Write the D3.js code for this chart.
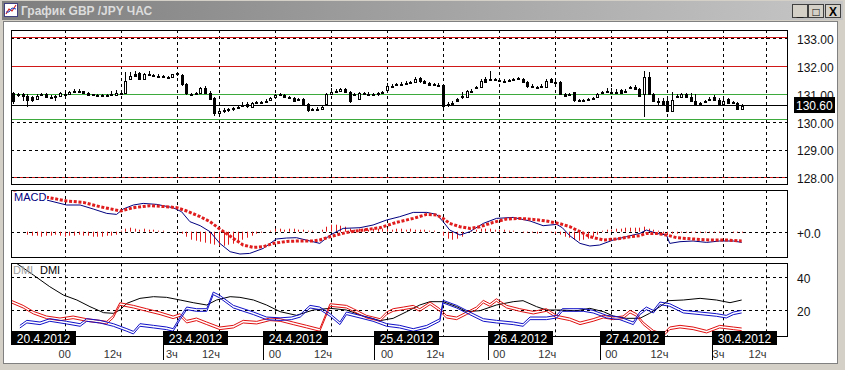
<!DOCTYPE html>
<html>
<head>
<meta charset="utf-8">
<script src="https://cdnjs.cloudflare.com/ajax/libs/d3/7.8.5/d3.min.js"></script>
<style>
body { margin: 0; background: #d4d0c8; }
svg text { font-family: "Liberation Sans", Arial, sans-serif; }
</style>
</head>
<body>
<div id="chart"></div>
<script>
// hourly GBP/JPY candles, bar 0 = 19.4 13h
var priceOpen = [131.02,130.96,130.98,130.92,130.88,130.82,130.96,131.00,130.90,130.90,130.90,131.00,131.02,131.08,131.12,131.10,131.04,130.98,130.96,130.96,
130.94,130.96,130.98,131.04,131.06,131.56,131.70,131.74,131.54,131.72,131.68,131.66,131.64,131.62,131.58,131.70,131.68,131.34,131.00,131.00,
131.04,131.22,131.04,130.84,130.34,130.40,130.42,130.46,130.50,130.56,130.62,130.52,130.66,130.72,130.72,130.78,130.88,130.98,130.96,130.88,
130.86,130.78,130.82,130.64,130.44,130.46,130.48,130.62,131.00,131.08,131.12,131.18,131.06,130.98,130.82,131.02,131.00,130.98,130.98,131.04,
131.12,131.28,131.32,131.34,131.38,131.40,131.42,131.56,131.46,131.40,131.34,131.32,131.32,130.60,130.66,130.82,130.92,130.92,131.12,131.20,
131.28,131.54,131.52,131.54,131.50,131.48,131.48,131.52,131.56,131.54,131.42,131.30,131.24,131.28,131.26,131.52,131.42,131.42,131.00,130.96,
131.06,130.78,130.78,130.78,130.84,130.90,131.02,131.08,131.08,131.06,131.14,131.10,131.22,131.26,131.18,131.00,131.60,131.00,130.76,130.76,
130.76,130.40,130.92,130.90,131.00,130.90,130.76,130.66,130.72,130.82,130.90,130.78,130.66,130.82,130.70,130.66,130.46];
var priceHigh = [131.06,131.04,131.02,130.98,130.94,130.98,131.04,131.02,130.96,130.96,131.06,131.04,131.12,131.18,131.16,131.12,131.06,131.00,130.98,130.98,
130.98,131.10,131.14,131.10,131.78,131.80,131.82,131.80,131.76,131.84,131.72,131.70,131.68,131.66,131.72,131.80,131.72,131.38,131.04,131.06,
131.26,131.28,131.10,130.90,130.46,130.50,130.50,130.54,130.58,130.72,130.70,130.72,130.74,130.76,130.80,130.88,131.00,131.04,131.00,130.92,
130.90,130.84,130.86,130.68,130.50,130.52,130.60,131.04,131.20,131.16,131.22,131.20,131.10,131.04,131.08,131.06,131.08,131.02,131.06,131.10,
131.40,131.34,131.38,131.42,131.46,131.48,131.60,131.60,131.50,131.44,131.38,131.40,131.36,130.70,130.74,130.86,131.06,131.14,131.16,131.28,
131.54,131.60,131.84,131.58,131.58,131.52,131.54,131.58,131.60,131.58,131.46,131.34,131.28,131.34,131.52,131.56,131.46,131.48,131.04,131.04,
131.08,130.82,130.82,130.84,130.90,131.04,131.12,131.20,131.20,131.16,131.18,131.16,131.30,131.32,131.22,131.84,131.80,131.04,130.84,130.86,
130.80,131.08,131.00,131.04,131.04,131.02,131.00,130.70,130.78,130.90,130.96,130.84,130.82,130.86,130.74,130.70,130.62];
var priceLow = [130.64,130.90,130.76,130.52,130.72,130.80,130.94,130.86,130.86,130.76,130.88,130.96,131.00,131.06,131.04,131.00,130.94,130.92,130.92,130.92,
130.92,130.94,130.96,130.98,131.04,131.52,131.62,131.50,131.52,131.66,131.62,131.62,131.58,131.56,131.56,131.64,131.30,130.96,130.96,130.96,
131.02,131.00,130.80,130.22,130.24,130.30,130.36,130.40,130.44,130.52,130.50,130.50,130.62,130.66,130.66,130.74,130.86,130.94,130.84,130.80,
130.70,130.74,130.60,130.36,130.40,130.42,130.46,130.58,130.98,131.04,131.08,131.04,130.66,130.94,130.80,130.96,130.94,130.92,130.94,131.00,
131.10,131.24,131.28,131.30,131.34,131.36,131.40,131.40,131.34,131.28,131.30,131.26,130.50,130.54,130.60,130.74,130.82,130.90,131.08,131.16,
131.26,131.40,131.48,131.48,131.46,131.44,131.44,131.48,131.52,131.40,131.22,131.22,131.18,131.24,131.24,131.38,131.36,130.98,130.88,130.92,
130.72,130.72,130.74,130.74,130.80,130.88,130.98,131.04,131.02,131.00,131.00,131.06,131.18,131.14,130.92,130.16,130.98,130.74,130.58,130.62,
130.34,130.36,130.88,130.88,130.86,130.74,130.62,130.60,130.68,130.78,130.76,130.62,130.62,130.64,130.66,130.42,130.42];
var priceClose = [130.72,130.98,130.92,130.76,130.78,130.94,131.00,130.88,130.90,130.92,131.02,131.00,131.08,131.12,131.10,131.04,130.98,130.96,130.96,130.94,
130.96,130.98,131.04,131.04,131.48,131.66,131.64,131.54,131.72,131.68,131.66,131.64,131.62,131.58,131.70,131.74,131.34,131.00,130.98,131.02,
131.22,131.04,130.84,130.30,130.40,130.42,130.44,130.48,130.52,130.60,130.54,130.66,130.70,130.72,130.76,130.84,130.96,131.00,130.88,130.84,
130.76,130.80,130.64,130.42,130.44,130.46,130.54,130.98,131.06,131.12,131.18,131.06,130.72,131.00,131.04,130.98,130.96,130.96,131.02,131.08,
131.28,131.30,131.34,131.36,131.40,131.44,131.54,131.44,131.38,131.32,131.34,131.30,130.58,130.64,130.68,130.76,130.94,131.12,131.12,131.24,
131.48,131.44,131.54,131.52,131.48,131.48,131.50,131.52,131.56,131.44,131.26,131.30,131.24,131.30,131.46,131.40,131.40,131.00,130.94,131.00,
130.76,130.78,130.78,130.80,130.86,131.00,131.06,131.10,131.06,131.06,131.02,131.12,131.24,131.18,130.94,131.60,131.00,130.76,130.76,130.64,
130.40,130.78,130.94,131.00,130.88,130.76,130.64,130.64,130.74,130.82,130.80,130.64,130.76,130.66,130.70,130.46,130.58];

var priceTicks = [128, 129, 130, 131, 132, 133];
var redLevels = [133.06, 132.0, 128.0];
var greenLevels = [131.0, 130.08];
var lastPrice = 130.60;

// MACD, [bar, value]
var macdLine = [[0,0.38],[3,0.35],[7.1,0.317],[10,0.283],[11.4,0.267],[14.3,0.267],[17.1,0.227],[20,0.183],[22.1,0.173],[23.5,0.227],
[25.7,0.267],[27.8,0.283],[30.7,0.273],[34.2,0.24],[36,0.2],[37.8,0.1],[40,0.06],[42.1,0],[44.2,-0.117],[46.4,-0.2],[48.5,-0.223],
[50.6,-0.217],[53.5,-0.167],[56.3,-0.073],[58.5,-0.063],[60.6,-0.06],[63.5,-0.093],[65.6,-0.117],[67.8,-0.033],[70.6,0.033],[74.2,0.04],
[77,0.067],[79.9,0.117],[82.7,0.15],[85.6,0.193],[88.5,0.193],[90.6,0.173],[92,0.1],[93.4,0.017],[95.6,-0.033],[97.7,0],[100.6,0.083],
[103.4,0.133],[107,0.143],[110.6,0.107],[113.4,0.06],[116.3,0.073],[117.5,0.04],[119.1,-0.04],[121.3,-0.117],[123.4,-0.143],[125.5,-0.133],
[128.4,-0.083],[131.2,-0.05],[134.1,-0.017],[135.5,0.017],[137.7,-0.017],[139.8,-0.033],[140.5,-0.117],[142.7,-0.1],[145.5,-0.093],
[148.4,-0.107],[151.2,-0.093],[154.1,-0.093],[155.9,-0.107]];
var macdSignal = [[0,0.39],[3,0.37],[7.4,0.343],[11.4,0.307],[15,0.293],[18.5,0.25],[23,0.207],[25.7,0.24],[29.2,0.26],[32.8,0.25],[35,0.24],
[37.1,0.207],[40,0.15],[42.1,0.1],[44.2,0.027],[47.1,-0.067],[49.2,-0.133],[51.4,-0.157],[53.5,-0.15],[55.6,-0.117],[58.5,-0.097],
[61.3,-0.093],[64.2,-0.093],[65.6,-0.083],[67.8,-0.05],[71.3,-0.007],[74.9,0.017],[78.5,0.04],[82,0.093],[85.6,0.133],[88.5,0.173],
[90.6,0.167],[92,0.133],[93.4,0.083],[95.6,0.05],[97.7,0.033],[99.9,0.05],[102.7,0.093],[105.6,0.127],[108.4,0.133],[111.3,0.123],
[114.1,0.107],[117,0.08],[119.1,0.05],[121.3,0],[123.4,-0.05],[126.3,-0.083],[129.1,-0.073],[132,-0.05],[134.1,-0.04],[135.5,-0.017],
[137.7,-0.017],[139.8,-0.033],[142,-0.06],[145.5,-0.073],[149.1,-0.083],[152.6,-0.083],[155.9,-0.093]];
var macdHist = [0,0,0,
-0.03,-0.04,-0.04,-0.05,-0.04,-0.04,-0.03,-0.04,-0.05,-0.04,-0.04,-0.03,-0.04,-0.04,-0.05,-0.05,-0.05,-0.04,-0.04,-0.03,
0.01,0.03,0.04,0.03,0.02,0.03,0.02,0.02,0.01,
0.01,0,0,-0.01,-0.02,
-0.05,-0.08,-0.09,-0.10,-0.11,-0.12,-0.13,-0.14,-0.14,-0.13,-0.12,-0.10,-0.08,-0.06,-0.04,-0.02,
-0.01,0,0.01,
0.03,0.03,0.02,0.03,0.03,0.02,0.02,0.01,0.01,0,0.02,0.05,
0.07,0.07,0.06,0.05,
0.03,0.02,0.03,0.03,0.02,0.03,0.03,0.03,0.03,0.02,0.03,0.03,0.02,0.03,0.02,
0.02,0.02,0.01,0.01,0,
-0.04,-0.07,-0.08,-0.07,-0.05,
0,0.01,0.02,0.03,0.03,0.03,0.02,0.02,0.02,0.01,0.01,0,-0.01,-0.01,-0.01,-0.02,-0.01,0,-0.01,-0.02,
-0.03,-0.05,-0.06,-0.08,-0.09,-0.08,-0.07,-0.05,-0.03,
0.01,0.02,0.02,0.03,0.03,0.04,0.04,0.04,0.04,0.05,0.03,0.02,0.01,
-0.02,-0.03,-0.02,-0.02,-0.01,-0.01,-0.01,-0.01,-0.01,-0.01,-0.01,-0.01,-0.01,0,0,-0.01,-0.01,-0.01];

// DMI, [bar, value]
var adxLine = [[0.7,48],[4.3,41],[7.8,34],[10.7,29],[13.6,26],[16.4,22],[19.3,18.4],[21.4,18],[22.8,20],[24.3,24],[27.1,27],[30,28],
[32.8,27.6],[35.7,26],[38.5,24.4],[41.4,23],[43.5,26],[46.4,28],[48.5,27.6],[51.4,26],[54.2,23],[57.1,19],[60.6,16.8],[64.2,20],
[67.8,21],[71.3,20],[74.9,16.4],[78.5,13.6],[81.3,15],[84.2,19],[87,23],[89.2,25],[92,25],[94.9,22],[97,19],[99.9,19.6],[103.4,23],
[107,25],[109.1,25.6],[112,22],[114.1,20],[117,20],[120.5,19.5],[123.4,21],[126.3,19],[128.4,16.4],[131.2,15],[134.1,15],[136.2,18],
[138.4,22],[140.2,25.6],[143.4,26],[147,27],[150.5,26],[153.4,24.4],[155.9,26]];
var plusDi = [[-0.4,25],[2.1,22],[4.3,18.4],[7.1,15.6],[10,14.4],[12.8,15.6],[15.7,14],[18.5,13],[20,12.4],[21.4,16],[22.8,23.6],
[25.7,22],[28.5,20],[31.4,18],[34.2,15.6],[35.7,17],[37.1,13],[39.2,14.4],[41.4,12],[44.2,9],[47.1,10],[49.2,13],[52.1,12.4],
[54.9,14.4],[57.1,14],[59.9,12],[62.8,10],[65.6,8],[67.8,23],[71.3,22],[72.8,20],[75.6,16],[78.5,14],[79.9,18],[81.3,20],[83.5,21],
[85.6,22],[87,20],[89.2,24],[91.3,20],[92.7,16],[94.9,15],[97,18],[99.1,21],[100.6,25],[102,23],[103.4,26],[105.6,22],[108.4,20],
[111.3,18.4],[114.1,20],[116.3,16],[119.1,14.4],[121.3,12],[124.1,14],[126.3,16],[128.4,15],[130.5,15.6],[132,19],[133.4,17],
[134.8,12],[137,7],[139.1,5],[140.5,9],[142.7,10],[145.5,9],[148.4,7],[151.2,10],[154.1,9],[155.9,8.4]];
var minusDi = [[1.4,10],[2.9,13],[5.7,12],[7.8,14],[11.4,12.4],[14.3,11],[15.7,14],[18.5,13],[21.4,11],[24.3,8],[25.7,6.4],[27.1,11],
[30,10],[32.8,9],[34.2,8],[35.7,15],[37.1,21],[39.2,20],[41.4,20],[42.8,30],[44.2,28],[47.1,22],[51.4,18],[54.2,15],[57.1,14.5],
[59.5,15],[61.4,16.5],[63.5,22],[65.6,21],[67.8,17],[69.9,12],[71.3,18],[74.2,16],[77,14],[79.9,11],[82.7,10],[85.6,8],[88.5,10],
[91.3,14],[92,25],[94.9,22],[97.7,18],[100.6,14],[103.4,13],[107,12],[109.1,11],[110.6,15],[114.1,15],[116.3,16],[117.5,20],
[119.8,20],[122,20],[124.1,19],[127,16],[129.8,15],[132.7,12],[134.1,18],[135.5,21],[137,19],[138.4,24],[140.5,23],[143.4,19],
[147,18],[150.5,17],[152.6,16],[154.1,18],[155.9,19]];

// time axis
var gridBars = [11, 23, 35, 44, 56, 68, 80, 92, 104, 116, 128, 140, 152, 161];
var hourLabels = ["00", "12ч", "3ч", "12ч", "00", "12ч", "00", "12ч", "00", "12ч", "00", "12ч", "3ч", "12ч"];
var dayBars = [-0.4, 32, 53.5, 77.3, 101.5, 125.5, 149.6];
var dayLabels = ["20.4.2012", "23.4.2012", "24.4.2012", "25.4.2012", "26.4.2012", "27.4.2012", "30.4.2012"];

var W = 845, H = 370;
var left = 11, right = 787;
var pPanel = {top: 30, bottom: 184},
    mPanel = {top: 190, bottom: 256.7},
    dPanel = {top: 263.3, bottom: 336.7};

var svg = d3.select("#chart")
    .append("svg")
    .attr("width", W)
    .attr("height", H);

// window frame
var defs = svg.append("defs");
var grad = defs.append("linearGradient").attr("id", "titleGrad");
grad.append("stop").attr("offset", "0%").attr("stop-color", "#7e7e7e");
grad.append("stop").attr("offset", "100%").attr("stop-color", "#c6c6c6");

svg.append("rect").attr("width", W).attr("height", H).attr("fill", "#d4d0c8");
svg.append("rect").attr("x", 2).attr("y", 1).attr("width", W - 4).attr("height", 19).attr("fill", "url(#titleGrad)");
svg.append("rect").attr("x", 3.5).attr("y", 21.5).attr("width", 834).attr("height", 342)
    .attr("fill", "#fff").attr("stroke", "#808080");

// title icon
svg.append("rect").attr("x", 4.5).attr("y", 3.5).attr("width", 13).attr("height", 13).attr("fill", "#fff").attr("stroke", "#404080");
svg.append("polyline").attr("points", "6,14 9,9 12,11 16,5").attr("fill", "none").attr("stroke", "#d02020").attr("stroke-width", 1.2);
svg.append("polyline").attr("points", "6,12 9,12 12,8 16,9").attr("fill", "none").attr("stroke", "#2040c0").attr("stroke-width", 1);

svg.append("text")
    .attr("x", 21).attr("y", 15)
    .attr("fill", "#dcdcdc")
    .attr("font-size", "12px")
    .attr("font-weight", "bold")
    .text("График GBP /JPY  ЧАС");

var buttons = [{x: 792, s: "_"}, {x: 808, s: "□"}, {x: 825, s: "X"}];
buttons.forEach(function(b) {
    svg.append("rect").attr("x", b.x + 0.5).attr("y", 4.5).attr("width", 15).attr("height", 13)
        .attr("fill", "#d4d0c8").attr("stroke", "#404040");
    svg.append("text").attr("x", b.x + 8).attr("y", 15.5).attr("text-anchor", "middle")
        .attr("font-size", "12px").attr("font-weight", "bold").attr("fill", "#000").text(b.s);
});

var x = d3.scaleLinear().domain([-0.5, 165.6]).range([left, right]);
var yPrice = d3.scaleLinear().domain([128, 133]).range([177.3, 38.3]);
var yMacd = d3.scaleLinear().domain([-0.25, 0.417]).range([mPanel.bottom, mPanel.top]);
var yDmi = d3.scaleLinear().domain([0, 40]).range([343.3, 276.7]);

function addClip(id, p) {
    defs.append("clipPath").attr("id", id)
        .append("rect").attr("x", left).attr("y", p.top)
        .attr("width", right - left).attr("height", p.bottom - p.top);
}
addClip("clipP", pPanel);
addClip("clipM", mPanel);
addClip("clipD", dPanel);

function vGrid(p) {
    svg.append("g").selectAll("line")
        .data(gridBars).enter().append("line")
        .attr("x1", function(d) { return Math.round(x(d)) + 0.5; })
        .attr("x2", function(d) { return Math.round(x(d)) + 0.5; })
        .attr("y1", p.top).attr("y2", p.bottom)
        .attr("stroke", "#000").attr("stroke-dasharray", "3,3");
}
function hGrid(vals, y) {
    svg.append("g").selectAll("line")
        .data(vals).enter().append("line")
        .attr("x1", left).attr("x2", right + 4)
        .attr("y1", function(d) { return Math.round(y(d)) + 0.5; })
        .attr("y2", function(d) { return Math.round(y(d)) + 0.5; })
        .attr("stroke", "#000").attr("stroke-dasharray", "3,3");
}
function frame(p) {
    svg.append("rect").attr("x", left + 0.5).attr("y", Math.round(p.top) + 0.5)
        .attr("width", right - left).attr("height", Math.round(p.bottom - p.top))
        .attr("fill", "none").attr("stroke", "#000");
}
function rightAxis(y, vals, fmt) {
    var g = svg.append("g")
        .attr("transform", "translate(" + (right + 4) + ",0)")
        .call(d3.axisRight(y).tickValues(vals).tickFormat(fmt).tickSize(0).tickPadding(6));
    g.select(".domain").remove();
    g.selectAll("text").attr("font-size", "12px").attr("fill", "#111")
        .attr("font-family", "Liberation Sans, Arial, sans-serif").attr("dy", "0.45em");
    return g;
}

// ---------- price panel ----------
vGrid(pPanel);

var gp = svg.append("g").attr("clip-path", "url(#clipP)");
gp.selectAll(".red").data(redLevels).enter().append("line")
    .attr("x1", left).attr("x2", right)
    .attr("y1", function(d) { return Math.round(yPrice(d)) + 0.5; })
    .attr("y2", function(d) { return Math.round(yPrice(d)) + 0.5; })
    .attr("stroke", "#d01818");
gp.selectAll(".green").data(greenLevels).enter().append("line")
    .attr("x1", left).attr("x2", right)
    .attr("y1", function(d) { return Math.round(yPrice(d)) + 0.5; })
    .attr("y2", function(d) { return Math.round(yPrice(d)) + 0.5; })
    .attr("stroke", "#3caa3c");
hGrid(priceTicks.filter(function(t) { return t !== 131 && t !== 132; }), yPrice);
gp.append("line")
    .attr("x1", left).attr("x2", right)
    .attr("y1", Math.round(yPrice(lastPrice)) + 0.5).attr("y2", Math.round(yPrice(lastPrice)) + 0.5)
    .attr("stroke", "#000");

var candles = gp.selectAll(".candle")
    .data(d3.range(priceClose.length))
    .enter().append("g")
    .attr("class", "candle")
    .attr("shape-rendering", "crispEdges");

candles.append("line")
    .attr("x1", function(i) { return Math.round(x(i)) + 0.5; })
    .attr("x2", function(i) { return Math.round(x(i)) + 0.5; })
    .attr("y1", function(i) { return yPrice(priceHigh[i]); })
    .attr("y2", function(i) { return yPrice(priceLow[i]); })
    .attr("stroke", "#000");

candles.append("rect")
    .attr("x", function(i) { return Math.round(x(i)) - 1 + 0.5; })
    .attr("width", 2)
    .attr("y", function(i) { return Math.round(yPrice(Math.max(priceOpen[i], priceClose[i]))) + 0.5; })
    .attr("height", function(i) {
        return Math.max(1, Math.round(Math.abs(yPrice(priceOpen[i]) - yPrice(priceClose[i]))));
    })
    .attr("fill", function(i) { return priceClose[i] >= priceOpen[i] ? "#fff" : "#000"; })
    .attr("stroke", "#000");

frame(pPanel);
rightAxis(yPrice, priceTicks, d3.format(".2f"));

var lastY = yPrice(lastPrice);
svg.append("rect").attr("x", 794).attr("y", lastY - 8).attr("width", 41).attr("height", 16).attr("fill", "#000");
svg.append("text").attr("x", 796).attr("y", lastY + 5)
    .attr("font-size", "12px").attr("fill", "#fff").text(d3.format(".2f")(lastPrice));

// ---------- MACD panel ----------
vGrid(mPanel);
hGrid([0], yMacd);

var gm = svg.append("g").attr("clip-path", "url(#clipM)");
gm.selectAll(".hist").data(macdHist).enter().append("line")
    .attr("x1", function(d, i) { return Math.round(x(i)) + 0.5; })
    .attr("x2", function(d, i) { return Math.round(x(i)) + 0.5; })
    .attr("y1", yMacd(0))
    .attr("y2", function(d) { return yMacd(d); })
    .attr("stroke", "#e01c1c");

var mline = d3.line()
    .x(function(d) { return x(d[0]); })
    .y(function(d) { return yMacd(d[1]); });

gm.append("path").datum(macdLine)
    .attr("d", mline).attr("fill", "none").attr("stroke", "#000080").attr("stroke-width", 1);
gm.append("path").datum(macdSignal)
    .attr("d", mline).attr("fill", "none").attr("stroke", "#e01c1c")
    .attr("stroke-width", 3).attr("stroke-dasharray", "3,1.7");

frame(mPanel);
rightAxis(yMacd, [0], d3.format("+.1f"));
svg.append("rect").attr("x", 13).attr("y", 192).attr("width", 34).attr("height", 11).attr("fill", "#fff");
svg.append("text").attr("x", 14).attr("y", 201).attr("font-size", "11px").attr("fill", "#000080").text("MACD");

// ---------- DMI panel ----------
vGrid(dPanel);
hGrid([20, 40], yDmi);

var gd = svg.append("g").attr("clip-path", "url(#clipD)");
var dline = d3.line()
    .x(function(d) { return x(d[0]); })
    .y(function(d) { return yDmi(d[1]); });

gd.append("path").datum(adxLine)
    .attr("d", dline).attr("fill", "none").attr("stroke", "#000");

[[plusDi, "#e01010"], [minusDi, "#1010c8"]].forEach(function(s) {
    [-1.3, 1.3].forEach(function(off) {
        gd.append("path").datum(s[0])
            .attr("transform", "translate(0," + off + ")")
            .attr("d", dline).attr("fill", "none").attr("stroke", s[1]).attr("stroke-width", 1);
    });
});

frame(dPanel);
rightAxis(yDmi, [20, 40], d3.format("d"));
svg.append("text").attr("x", 13).attr("y", 274).attr("font-size", "11px").attr("fill", "#a0a0a0").text("DMI");
svg.append("text").attr("x", 40).attr("y", 274).attr("font-size", "11px").attr("fill", "#000").text("DMI");

// ---------- time axis ----------
var days = svg.append("g").selectAll("g")
    .data(dayBars).enter().append("g")
    .attr("transform", function(d) { return "translate(" + Math.round(x(d)) + ",0)"; });

days.append("line")
    .attr("x1", 0.5).attr("x2", 0.5)
    .attr("y1", 337).attr("y2", 360)
    .attr("stroke", "#000")
    .attr("stroke-opacity", function(d, i) { return i === 0 ? 0 : 1; });
days.append("rect")
    .attr("x", 0).attr("y", 331).attr("width", 65).attr("height", 14)
    .attr("fill", "#000");
days.append("text")
    .attr("x", 32.5).attr("y", 342.5).attr("text-anchor", "middle")
    .attr("font-size", "12px").attr("fill", "#fff")
    .text(function(d, i) { return dayLabels[i]; });

svg.append("g").selectAll("text")
    .data(gridBars).enter().append("text")
    .attr("x", function(d, i) { return hourLabels[i] === "00" ? x(d) : x(d) + 1; })
    .attr("y", 358)
    .attr("text-anchor", function(d, i) { return hourLabels[i] === "00" ? "middle" : "end"; })
    .attr("font-size", "11px").attr("fill", "#333")
    .text(function(d, i) { return hourLabels[i]; });
</script>
</body>
</html>
